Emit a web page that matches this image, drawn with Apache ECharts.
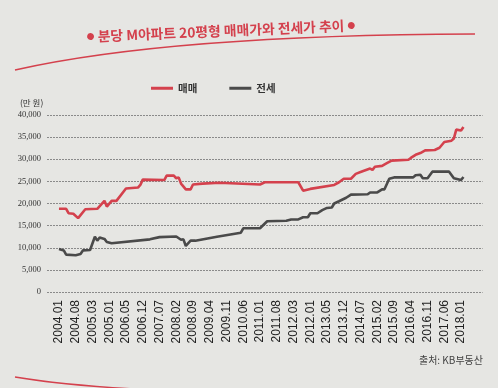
<!DOCTYPE html>
<html>
<head>
<meta charset="utf-8">
<script src="https://cdn.jsdelivr.net/npm/echarts@6/dist/echarts.min.js"></script>
<style>
html,body{margin:0;padding:0;background:#e6e6e3;}
#c{width:498px;height:388px;}
</style>
</head>
<body>
<div id="c"></div>
<script>
// ---- data (values in 만 원) ----
var tickLabels = ['2004.01','2004.08','2005.03','2005.01','2006.05','2006.12','2007.07','2008.02','2008.09','2009.04','2009.11','2010.06','2011.01','2011.08','2012.03','2012.01','2013.05','2013.12','2014.07','2015.02','2015.09','2016.04','2016.11','2017.06','2018.01'];

var saleDates = ['2004.01','2004.04','2004.05','2004.07','2004.09','2004.12','2005.05','2005.08','2005.09','2005.11','2006.01','2006.05','2006.10','2006.11','2006.12','2007.09','2007.10','2008.01','2008.02','2008.03','2008.04','2008.06','2008.08','2008.09','2009.01','2009.08','2011.01','2011.03','2012.05','2012.07','2012.10','2013.08','2013.10','2013.12','2014.03','2014.05','2014.07','2014.11','2014.12','2015.01','2015.04','2015.06','2015.08','2016.03','2016.04','2016.06','2016.08','2016.10','2017.02','2017.04','2017.06','2017.09','2017.10','2017.11','2018.01','2018.02'];
var saleValues = [18800,18800,17800,17700,16700,18700,18800,20600,19300,20600,20600,23400,23600,24200,25400,25300,26300,26300,25700,25900,24500,23200,23200,24300,24500,24700,24300,24800,24800,22900,23300,24200,24800,25600,25600,26700,27100,27900,27600,28300,28500,29100,29700,29900,30300,31000,31400,32000,32100,32600,33900,34200,34700,36700,36500,37300];

var jeonseDates = ['2004.01','2004.03','2004.04','2004.08','2004.10','2004.11','2005.02','2005.04','2005.05','2005.06','2005.08','2005.09','2005.11','2007.03','2007.07','2008.02','2008.04','2008.05','2008.06','2008.08','2008.10','2009.07','2010.05','2010.06','2011.01','2011.04','2011.12','2012.02','2012.05','2012.07','2012.09','2012.10','2013.01','2013.03','2013.05','2013.07','2013.08','2013.10','2014.01','2014.03','2014.10','2014.11','2015.02','2015.04','2015.05','2015.07','2015.09','2016.05','2016.06','2016.08','2016.09','2016.11','2017.01','2017.08','2017.10','2018.01','2018.02'];
var jeonseValues = [9700,9400,8450,8300,8600,9400,9500,12500,11600,12300,12000,11300,11000,11900,12400,12550,11800,11900,10400,11600,11600,12500,13400,14400,14400,16000,16100,16400,16400,16900,16900,17800,17800,18500,19000,19100,20000,20500,21300,22000,22100,22500,22500,23200,23200,25600,25900,25900,26400,26500,25700,25700,27200,27200,25700,25300,26000];

// month index from 2004.01
function monthIndex(s){ var p = s.split('.'); return (parseInt(p[0],10)-2004)*12 + parseInt(p[1],10)-1; }
function build(dates, vals){ return dates.map(function(d,i){ return [monthIndex(d), vals[i]]; }); }
var tickPositions = tickLabels.map(function(_, i){ return i*7; });

var RED = '#d4414d', GRAY = '#4a4a4a';
var chart = echarts.init(document.getElementById('c'));
chart.setOption({
  backgroundColor: '#e6e6e3',
  animation: false,
  legend: {
    data: ['매매','전세'],
    left: 146, top: 78,
    icon: 'rect', itemWidth: 22, itemHeight: 3, itemGap: 32,
    textStyle: { fontFamily: 'Noto Sans CJK KR', fontSize: 10.5, fontWeight: 'bold', color: '#333' }
  },
  grid: { left: 47, right: 15.4, top: 115, bottom: 96, containLabel: false },
  xAxis: {
    type: 'value', min: -5, max: 177,
    axisLine: { show: false }, axisTick: { show: false }, splitLine: { show: false },
    axisLabel: {
      customValues: tickPositions,
      rotate: 90, margin: 8,
      fontFamily: 'Liberation Sans', fontSize: 12, color: '#222',
      formatter: function(v){ return tickLabels[Math.round(v/7)] || ''; }
    }
  },
  yAxis: {
    type: 'value', min: 0, max: 40000, interval: 5000,
    axisLine: { show: false }, axisTick: { show: false },
    axisLabel: {
      margin: 6, fontFamily: 'Liberation Sans Narrow', fontSize: 8.5, color: '#333',
      formatter: function(v){ return v.toLocaleString('en-US'); }
    },
    splitLine: { lineStyle: { color: '#8a8a8a', width: 1, type: [2,1] } }
  },
  graphic: [
    { type: 'text', x: 221, y: 31, rotation: 0.042,
      style: { text: '{d|●} 분당 M아파트 20평형 매매가와 전세가 추이 {d|●}',
        align: 'center', verticalAlign: 'middle',
        fontFamily: 'Noto Sans CJK KR', fontSize: 13.8, fontWeight: 'bold', fill: RED,
        rich: { d: { fontSize: 9, fill: RED, fontFamily: 'DejaVu Sans' } } } },
    { type: 'bezierCurve', shape: { x1: 15, y1: 70, cpx1: 170, cpy1: 35, x2: 475, y2: 34 },
      style: { stroke: RED, lineWidth: 1.5, fill: null } },
    { type: 'bezierCurve', shape: { x1: 15, y1: 377, cpx1: 110, cpy1: 393, x2: 320, y2: 394 },
      style: { stroke: RED, lineWidth: 1.5, fill: null } },
    { type: 'text', left: 20, top: 99,
      style: { text: '(만 원)', fontFamily: 'Noto Sans CJK KR', fontSize: 8.5, fill: '#333' } },
    { type: 'text', right: 15, top: 355,
      style: { text: '출처: KB부동산', fontFamily: 'Noto Sans CJK KR', fontSize: 10, fill: '#444' } }
  ],
  series: [
    { name: '매매', type: 'line', data: build(saleDates, saleValues), showSymbol: false,
      color: RED, lineStyle: { color: RED, width: 2.6 }, z: 3 },
    { name: '전세', type: 'line', data: build(jeonseDates, jeonseValues), showSymbol: false,
      color: GRAY, lineStyle: { color: GRAY, width: 2.6 }, z: 2 }
  ]
});
</script>
</body>
</html>
